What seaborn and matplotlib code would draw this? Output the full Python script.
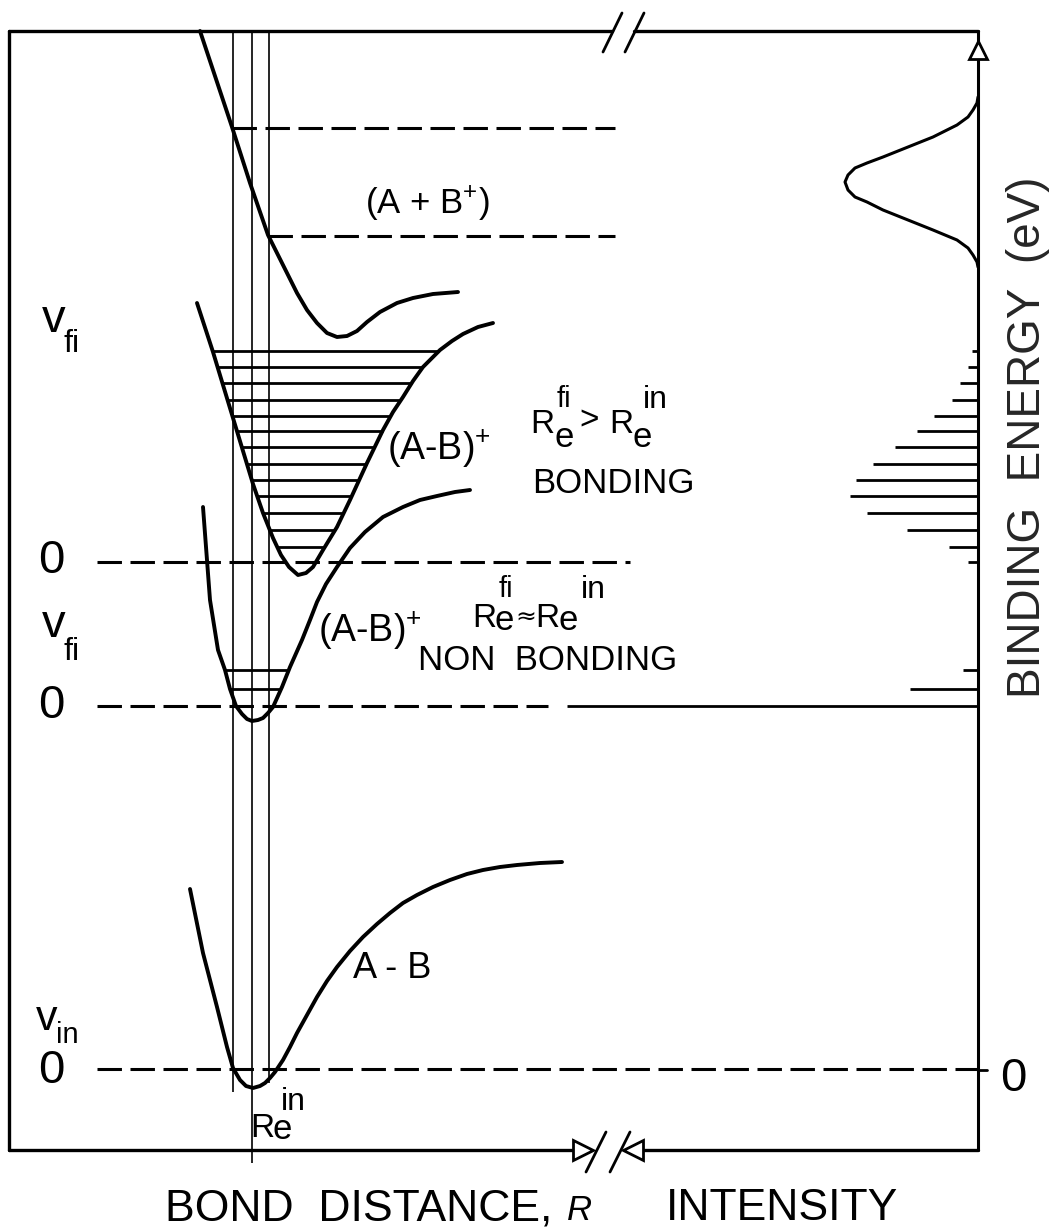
import numpy as np
import matplotlib
matplotlib.use("Agg")
import matplotlib.pyplot as plt
import seaborn as sns

# Daten (Einheiten: R und Bindungsenergie als Bildkoordinaten)

# (A + B+) repulsive Kurve
rep_R = [200, 213, 232, 250, 268, 277, 287, 297, 307, 317, 327, 337, 347, 357,
         367, 380, 397, 413, 433, 458]
rep_E = [31, 70, 127, 183, 235, 253, 273, 293, 310, 323, 333, 337, 336, 331,
         322, 312, 303, 298, 294, 292]

# (A-B)+ bindend
bond_R = [197, 213, 233, 253, 263, 273, 281, 289, 298, 306, 313, 323, 337, 350,
          367, 383, 393, 403, 413, 423, 432, 440, 452, 463, 478, 493]
bond_E = [303, 352, 418, 484, 513, 538, 555, 567, 575, 573, 567, 550, 527, 500,
          463, 430, 412, 397, 381, 367, 358, 350, 341, 334, 327, 323]
bond_levels = [351, 367, 383, 400, 416, 431, 447, 464, 480, 496, 513, 530, 547]

# (A-B)+ nicht bindend
nonb_R = [203, 210, 218, 225, 230, 236, 242, 247, 252, 258, 263, 268, 273, 282,
          290, 302, 310, 317, 326, 337, 350, 365, 383, 403, 420, 437, 455, 470]
nonb_E = [507, 600, 650, 670, 689, 706, 714, 719, 721, 720, 718, 713, 707, 687,
          667, 640, 620, 602, 584, 567, 548, 532, 517, 507, 500, 496, 492, 490]
nonb_levels = [670, 689]

# A-B Grundzustand
ab_R = [190, 203, 217, 227, 233, 240, 246, 253, 260, 265, 270, 275, 283, 290,
        297, 307, 317, 327, 337, 350, 363, 377, 390, 403, 417, 433, 450, 467,
        483, 500, 517, 540, 562]
ab_E = [889, 953, 1007, 1047, 1068, 1080, 1086, 1088, 1086, 1083, 1078, 1072,
        1060, 1047, 1033, 1015, 997, 981, 967, 951, 937, 924, 913, 903, 895,
        887, 880, 874, 870, 867, 865, 863, 862]

# Nullniveaus v = 0
zero_E = [562, 706, 1069]

# Spektrum (Intensitaet nach links vom Achsenstrich)
stick_E = [351, 367, 383, 400, 416, 431, 447, 464, 480, 496, 513, 530, 547, 562,
           670, 689, 706]
stick_I = [6, 10, 18, 26, 44, 61, 83, 105, 122, 128, 111, 71, 29, 10, 15, 68, 411]

# breites Band (A + B+)
peak_E = [97, 103, 110, 117, 125, 137, 147, 157, 163, 168, 175, 182, 190, 197,
          202, 210, 220, 230, 240, 248, 255, 262, 267]
peak_I = [0, 1, 5, 10, 21, 45, 70, 95, 111, 123, 130, 133, 130, 123, 111, 95,
          70, 45, 21, 10, 5, 1, 0]

# Franck-Condon Linien (R)
fc_R = [232.5, 251.5, 268.5]

#%%
sns.set_theme(style="white")
plt.rcParams["font.family"] = ["Liberation Sans", "DejaVu Sans"]
plt.rcParams["mathtext.fontset"] = "custom"
plt.rcParams["mathtext.rm"] = "Liberation Sans"

fig = plt.figure(figsize=(10.54, 12.28), dpi=100)
ax = fig.add_axes([0, 0, 1, 1])
ax.set_xlim(0, 1054)
ax.set_ylim(1228, 0)
ax.axis("off")

k = "black"
axis_x = 978
dash = (0, (8, 2.8))

# Rahmen
ax.plot([9, 9], [31, 1150], color=k, lw=2.4)
ax.plot([9, 612], [31, 31], color=k, lw=2.4)
ax.plot([634, axis_x], [31, 31], color=k, lw=2.4)
ax.plot([axis_x, axis_x], [31, 1150], color=k, lw=2.2)
ax.plot([9, 578], [1150, 1150], color=k, lw=2.4)
ax.plot([638, axis_x], [1150, 1150], color=k, lw=2.4)
ax.plot([axis_x, 987], [1070, 1070], color=k, lw=2)
for xs, ys in [([603, 622], [52, 13]), ([625, 644], [52, 13]),
               ([586, 606], [1172, 1132]), ([610, 630], [1172, 1132])]:
    ax.plot(xs, ys, color=k, lw=2)
ax.plot(axis_x, 50, marker="^", ms=13, mfc="white", mec=k, mew=2)
ax.plot(583, 1150, marker=">", ms=14, mfc="white", mec=k, mew=2)
ax.plot(633, 1150, marker="<", ms=14, mfc="white", mec=k, mew=2)

# senkrechte Linien
ax.vlines(fc_R[0], 31, 1092, colors=k, lw=1.2)
ax.vlines(fc_R[1], 31, 1163, colors=k, lw=1.2)
ax.vlines(fc_R[2], 31, 1083, colors=k, lw=1.2)

# Potentialkurven
for R, E in [(rep_R, rep_E), (bond_R, bond_E), (nonb_R, nonb_E), (ab_R, ab_E)]:
    sns.lineplot(x=R, y=E, sort=False, estimator=None, color=k, lw=2.8, ax=ax)


def level_ends(R, E, levels):
    i = int(np.argmax(E))
    left_E, left_R = np.array(E[:i + 1]), np.array(R[:i + 1])
    right_E, right_R = np.array(E[i:])[::-1], np.array(R[i:])[::-1]
    return np.interp(levels, left_E, left_R), np.interp(levels, right_E, right_R)


x0, x1 = level_ends(bond_R, bond_E, bond_levels)
ax.hlines(bond_levels, x0, x1, colors=k, lw=2)
x0, x1 = level_ends(nonb_R, nonb_E, nonb_levels)
ax.hlines(nonb_levels, x0, x1, colors=k, lw=2)

# gestrichelte Linien
ax.hlines([127.5, 236], [232, 268], 615, colors=k, lw=2.2, linestyles=dash)
ax.hlines(zero_E, 97, [630, 548, axis_x], colors=k, lw=2.2, linestyles=dash)

# Spektrum
ax.hlines(stick_E, axis_x - np.array(stick_I), axis_x, colors=k, lw=2)
sns.lineplot(x=axis_x - np.array(peak_I), y=peak_E, sort=False, estimator=None,
             color=k, lw=2.2, ax=ax)

# Beschriftungen
def t(x, y, s, size, **kw):
    ax.text(x, y, s, fontsize=size, ha="left", va="baseline", color=k, **kw)


t(365, 213, "(A + B$^{+}$)", 25)
t(387, 460, "(A-B)$^{+}$", 27)
t(318, 642, "(A-B)$^{+}$", 27)
t(353, 978, "A - B", 26)
t(532, 493, "BONDING", 25)
t(418, 670, "NON  BONDING", 25)

# R_e^fi > R_e^in
t(530, 433, "R", 24); t(554, 447, "e", 25); t(557, 407, "fi", 21)
t(579, 430, ">", 24)
t(609, 433, "R", 24); t(633, 447, "e", 25); t(643, 408, "in", 23)
# R_e^fi = R_e^in
t(472, 627, "R", 24); t(494, 630, "e", 25); t(499, 597, "fi", 21)
t(515, 625, "\u2248", 18, family="DejaVu Sans")
t(535, 627, "R", 24); t(559, 630, "e", 25); t(581, 598, "in", 23)
# R_e^in unten
t(250, 1137, "R", 24); t(273, 1139, "e", 25); t(281, 1110, "in", 23)

# v und 0 Beschriftungen
t(42, 332, "v", 34); t(64, 352, "fi", 23)
t(42, 637, "v", 34); t(64, 660, "fi", 23)
t(36, 1030, "v", 31); t(56, 1043, "in", 21)
for y0 in [573, 718, 1083]:
    t(38, y0, "0", 34)
t(1000, 1091, "0", 34)

t(165, 1220, "BOND  DISTANCE,", 32)
t(567, 1220, "R", 25, style="italic")
t(666, 1220, "INTENSITY", 32)
ax.text(1028, 437, "BINDING  ENERGY  (eV)", fontsize=33, rotation=90,
        ha="center", va="center")

fig.savefig("out.png", dpi=100, facecolor="white")
